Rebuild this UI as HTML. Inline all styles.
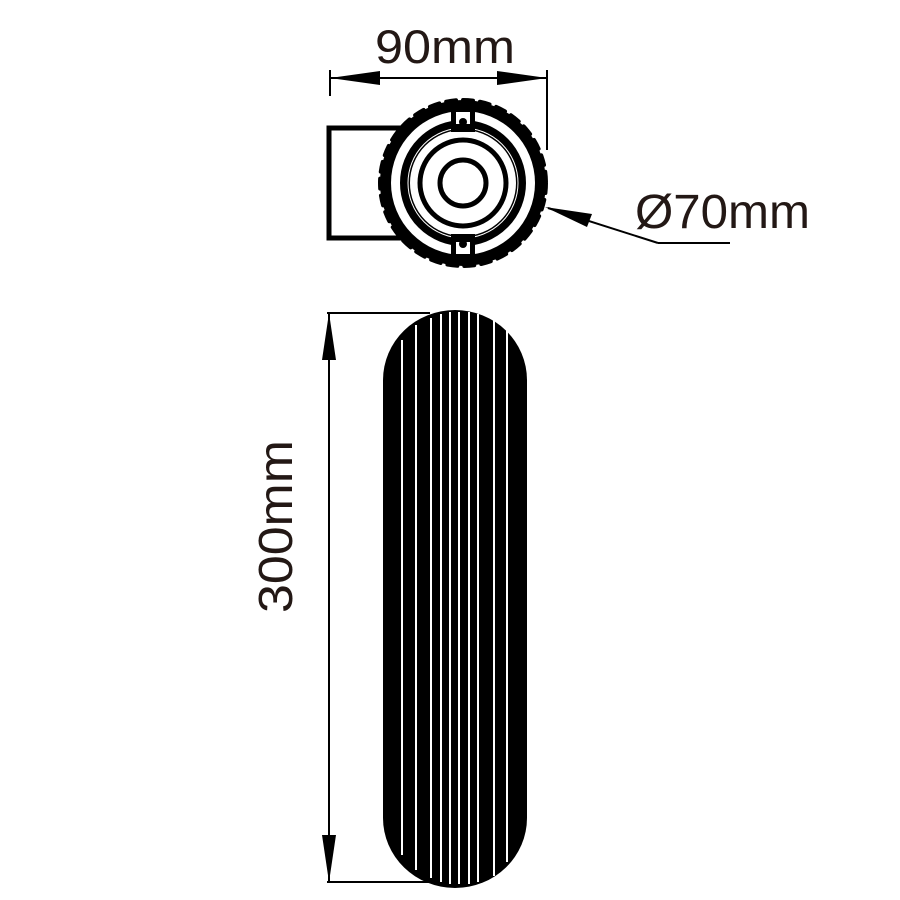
<!DOCTYPE html>
<html><head><style>
html,body{margin:0;padding:0;background:#fff;}
svg{display:block;}
text{font-family:"Liberation Sans",Arial,sans-serif;fill:#231815;}
</style></head><body>
<svg width="900" height="900" viewBox="0 0 900 900" xmlns="http://www.w3.org/2000/svg">
<!-- 90mm dim -->
<text x="375" y="63" font-size="47" textLength="140" lengthAdjust="spacingAndGlyphs">90mm</text>
<line x1="330" y1="70" x2="330" y2="96" stroke="#000" stroke-width="2"/>
<line x1="547" y1="70" x2="547" y2="150" stroke="#000" stroke-width="2"/>
<line x1="330" y1="78" x2="547" y2="78" stroke="#000" stroke-width="2"/>
<polygon points="330,78 380,71 380,85" fill="#000"/>
<polygon points="547,78 497,71 497,85" fill="#000"/>

<!-- side rectangle -->
<rect x="329" y="128" width="80" height="110" fill="#fff" stroke="#000" stroke-width="5"/>

<!-- top view knob -->
<circle cx="463" cy="183" r="83" fill="#000"/>
<circle cx="463" cy="183" r="83" fill="none" stroke="#000" stroke-width="4" stroke-dasharray="10 7" stroke-linecap="round"/>
<circle cx="463" cy="183" r="72" fill="#fff"/>
<circle cx="463" cy="183" r="58" fill="none" stroke="#000" stroke-width="10"/>
<circle cx="463" cy="183" r="55" fill="none" stroke="#fff" stroke-width="1"/>
<circle cx="463" cy="183" r="43" fill="none" stroke="#000" stroke-width="5"/>
<circle cx="463" cy="183" r="23" fill="none" stroke="#000" stroke-width="5"/>
<rect x="451" y="108" width="24" height="24" fill="#000"/>
<rect x="456" y="112" width="14" height="12" fill="#fff"/>
<circle cx="463" cy="122" r="4" fill="#000"/>
<rect x="451" y="234" width="24" height="24" fill="#000"/>
<rect x="456" y="242" width="14" height="12" fill="#fff"/>
<circle cx="463" cy="244" r="4" fill="#000"/>

<!-- Ø70mm -->
<text x="635" y="228" font-size="48" textLength="175" lengthAdjust="spacingAndGlyphs">Ø70mm</text>
<line x1="548" y1="208" x2="658" y2="243" stroke="#000" stroke-width="2"/>
<line x1="658" y1="243" x2="730" y2="243" stroke="#000" stroke-width="2"/>
<polygon points="545,207 592,214 587,227" fill="#000"/>

<!-- 300mm dim -->
<line x1="329" y1="313" x2="329" y2="882" stroke="#000" stroke-width="2"/>
<line x1="327" y1="313" x2="430" y2="313" stroke="#000" stroke-width="2"/>
<line x1="327" y1="882" x2="430" y2="882" stroke="#000" stroke-width="2"/>
<polygon points="329,313 322,360 336,360" fill="#000"/>
<polygon points="329,882 322,835 336,835" fill="#000"/>
<text transform="translate(292,613) rotate(-90)" font-size="48" textLength="173" lengthAdjust="spacingAndGlyphs">300mm</text>

<!-- body -->
<rect x="383" y="310" width="144" height="578" rx="72" ry="70" fill="#000"/>
<g stroke="#fff" stroke-width="2">
<line x1="402" y1="340" x2="402" y2="855"/>
<line x1="416" y1="325" x2="416" y2="870"/>
<line x1="431" y1="318" x2="431" y2="878"/>
<line x1="441" y1="314" x2="441" y2="882"/>
<line x1="450" y1="312" x2="450" y2="884"/>
<line x1="459" y1="312" x2="459" y2="884"/>
<line x1="469" y1="312" x2="469" y2="884"/>
<line x1="478" y1="314" x2="478" y2="882"/>
<line x1="494" y1="320" x2="494" y2="876"/>
<line x1="507" y1="330" x2="507" y2="862"/>
</g>
</svg>
</body></html>
